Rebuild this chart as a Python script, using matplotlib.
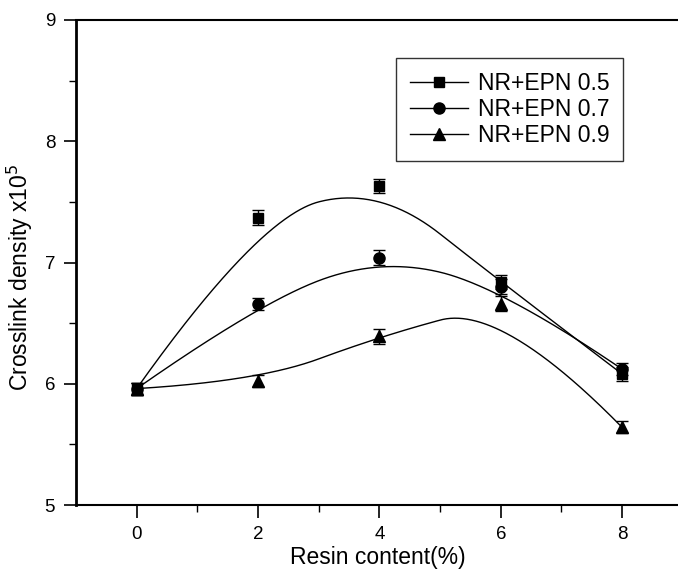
import numpy as np
import matplotlib
matplotlib.use("Agg")
import matplotlib.pyplot as plt

plt.rcParams['font.family'] = ['Liberation Sans', 'DejaVu Sans']

resin = [0, 2, 4, 6, 8]
epn05 = [5.96, 7.37, 7.63, 6.84, 6.08]
epn07 = [5.96, 6.66, 7.04, 6.80, 6.12]
epn09 = [5.96, 6.02, 6.39, 6.66, 5.64]
err05 = [0.05, 0.06, 0.06, 0.06, 0.06]
err07 = [0.05, 0.05, 0.06, 0.06, 0.05]
err09 = [0.05, 0.05, 0.06, 0.06, 0.05]
labels = ['NR+EPN 0.5', 'NR+EPN 0.7', 'NR+EPN 0.9']
markers = ['s', 'o', '^']
msizes = [7, 8, 9]


def bspline2(px, py, n=400):
    """Clamped uniform quadratic B-spline with the data points as control points."""
    px = np.asarray(px, float)
    py = np.asarray(py, float)
    k = 2
    m = len(px)
    nseg = m - k
    knots = np.concatenate([np.zeros(k), np.arange(nseg + 1), np.full(k, nseg)]).astype(float)
    us = np.linspace(0, nseg, n)
    outx, outy = [], []
    for u in us:
        if u >= nseg:
            s = m - 1
        else:
            s = int(np.searchsorted(knots, u, side='right') - 1)
        dx = [px[j] for j in range(s - k, s + 1)]
        dy = [py[j] for j in range(s - k, s + 1)]
        for r in range(1, k + 1):
            for j in range(k, r - 1, -1):
                i = j + s - k
                denom = knots[i + k + 1 - r] - knots[i]
                a = 0.0 if denom == 0 else (u - knots[i]) / denom
                dx[j] = (1 - a) * dx[j - 1] + a * dx[j]
                dy[j] = (1 - a) * dy[j - 1] + a * dy[j]
        outx.append(dx[k])
        outy.append(dy[k])
    return np.array(outx), np.array(outy)


fig = plt.figure(figsize=(6.78, 5.76), dpi=100)
ax = fig.add_axes([76/678, 1-505/576, 1-76/678, (505-20)/576])

handles = []
for ys, es, lab, m, ms in zip([epn05, epn07, epn09], [err05, err07, err09], labels, markers, msizes):
    cx, cy = bspline2(resin, ys)
    ax.plot(cx, cy, color='black', lw=1.0)
    ax.errorbar(resin, ys, yerr=es, fmt=m, color='black', ms=ms, capsize=4, elinewidth=1, capthick=1)
    h, = ax.plot([], [], color='black', marker=m, ms=ms, lw=1.0)
    handles.append(h)

ax.set_xlim(-1, 8.92)
ax.set_ylim(5, 9)
ax.set_xticks([0, 2, 4, 6, 8])
ax.set_xticks([1, 3, 5, 7], minor=True)
ax.set_yticks([5, 6, 7, 8, 9])
ax.set_yticks([5.5, 6.5, 7.5, 8.5], minor=True)
ax.tick_params(axis='both', which='major', direction='out', length=9, width=1.2, labelsize=13.5, pad=6)
ax.tick_params(axis='both', which='minor', direction='out', length=5, width=1.0)
ax.spines['right'].set_visible(False)
ax.spines['left'].set_linewidth(2)
ax.spines['bottom'].set_linewidth(1.5)
ax.spines['top'].set_linewidth(1.5)

ax.set_xlabel('Resin content(%)', fontsize=16.5)
ax.xaxis.set_label_coords(0.502, -0.085)
ax.set_ylabel('Crosslink density x10$^5$', fontsize=16.5)
ax.yaxis.set_label_coords(-0.068, 0.47)

leg = ax.legend(handles, labels, loc='upper right', bbox_to_anchor=(0.9086, 0.9216),
                borderaxespad=0, fontsize=16.5, frameon=True, fancybox=False, handlelength=2.55,
                handletextpad=0.4, labelspacing=0.14, borderpad=0.6)
leg.get_frame().set_edgecolor('black')
leg.get_frame().set_linewidth(1.0)

fig.savefig('out.png', dpi=100)
